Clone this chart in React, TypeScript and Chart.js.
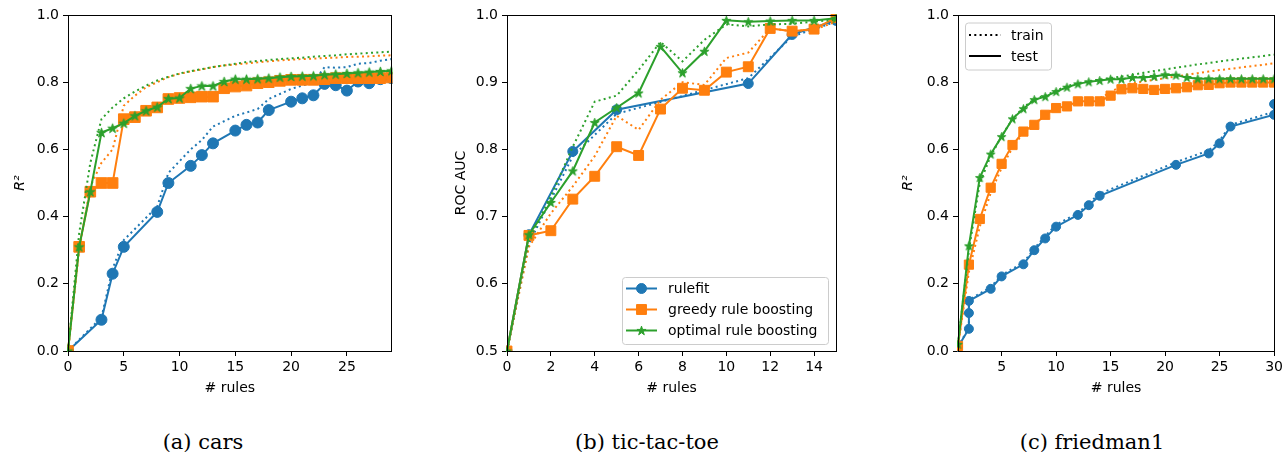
import React, { useEffect, useRef } from 'react';
import { Chart, registerables } from 'chart.js';
Chart.register(...registerables);

const FONT = '"DejaVu Sans", sans-serif';
const BLUE = '#1f77b4';
const ORANGE = '#ff7f0e';
const GREEN = '#2ca02c';

// ---------- (a) cars ----------
const carsRulefitX = [0, 3, 4, 5, 8, 9, 11, 12, 13, 15, 16, 17, 18, 20, 21, 22, 23, 24, 25, 26, 27, 28, 29];
const carsRulefitTest = [0, 0.093, 0.23, 0.31, 0.414, 0.5, 0.551, 0.583, 0.618, 0.656, 0.673, 0.68, 0.717, 0.742, 0.752, 0.761, 0.795, 0.791, 0.775, 0.802, 0.797, 0.809, 0.812];
const carsRulefitTrain = [0, 0.1, 0.245, 0.33, 0.43, 0.53, 0.6, 0.628, 0.668, 0.7, 0.71, 0.72, 0.75, 0.78, 0.79, 0.8, 0.845, 0.843, 0.845, 0.855, 0.857, 0.864, 0.869];
const carsGreedyX = [0, 1, 2, 3, 4, 5, 6, 7, 8, 9, 10, 11, 12, 13, 14, 15, 16, 17, 18, 19, 20, 21, 22, 23, 24, 25, 26, 27, 28, 29];
const carsGreedyTest = [0, 0.31, 0.474, 0.5, 0.5, 0.69, 0.696, 0.715, 0.725, 0.75, 0.753, 0.755, 0.757, 0.757, 0.782, 0.787, 0.79, 0.797, 0.8, 0.804, 0.807, 0.807, 0.807, 0.809, 0.812, 0.812, 0.812, 0.812, 0.812, 0.814];
const carsGreedyTrain = [0, 0.3, 0.49, 0.56, 0.6, 0.73, 0.76, 0.785, 0.8, 0.815, 0.825, 0.832, 0.838, 0.845, 0.85, 0.853, 0.856, 0.859, 0.862, 0.865, 0.867, 0.869, 0.87, 0.872, 0.873, 0.875, 0.876, 0.877, 0.879, 0.88];
const carsOptimalX = [0, 1, 2, 3, 4, 5, 6, 7, 8, 9, 10, 11, 12, 13, 14, 15, 16, 17, 18, 19, 20, 21, 22, 23, 24, 25, 26, 27, 28, 29];
const carsOptimalTest = [0, 0.31, 0.474, 0.65, 0.663, 0.678, 0.7, 0.715, 0.726, 0.751, 0.753, 0.781, 0.789, 0.789, 0.802, 0.809, 0.809, 0.81, 0.812, 0.815, 0.817, 0.818, 0.819, 0.822, 0.824, 0.826, 0.828, 0.83, 0.832, 0.834];
const carsOptimalTrain = [0, 0.35, 0.56, 0.69, 0.725, 0.752, 0.772, 0.79, 0.805, 0.816, 0.826, 0.833, 0.839, 0.845, 0.85, 0.855, 0.86, 0.863, 0.866, 0.869, 0.871, 0.873, 0.876, 0.878, 0.88, 0.883, 0.885, 0.887, 0.889, 0.891];

// ---------- (b) tic-tac-toe ----------
const tttRulefitX = [0, 1, 3, 5, 11, 13, 15];
const tttRulefitTest = [0.5, 0.673, 0.797, 0.859, 0.898, 0.971, 0.992];
const tttRulefitTrain = [0.5, 0.66, 0.79, 0.853, 0.906, 0.968, 0.99];
const tttGreedyX = [0, 1, 2, 3, 4, 5, 6, 7, 8, 9, 10, 11, 12, 13, 14, 15];
const tttGreedyTest = [0.5, 0.672, 0.679, 0.726, 0.76, 0.804, 0.791, 0.86, 0.891, 0.888, 0.915, 0.923, 0.98, 0.976, 0.979, 0.996];
const tttGreedyTrain = [0.5, 0.655, 0.705, 0.745, 0.79, 0.85, 0.829, 0.874, 0.9, 0.896, 0.936, 0.944, 0.98, 0.976, 0.978, 0.99];
const tttOptimalX = [0, 1, 2, 3, 4, 5, 6, 7, 8, 9, 10, 11, 12, 13, 14, 15];
const tttOptimalTest = [0.5, 0.673, 0.721, 0.768, 0.84, 0.862, 0.884, 0.953, 0.914, 0.946, 0.992, 0.99, 0.991, 0.992, 0.992, 0.995];
const tttOptimalTrain = [0.5, 0.665, 0.73, 0.804, 0.871, 0.88, 0.918, 0.96, 0.931, 0.963, 0.986, 0.983, 0.986, 0.987, 0.99, 0.993];

// ---------- (c) friedman1 ----------
const friedRulefitX = [1, 2, 2, 2, 4, 5, 7, 8, 9, 10, 12, 13, 14, 21, 24, 25, 26, 30, 30];
const friedRulefitTest = [0.012, 0.066, 0.113, 0.149, 0.185, 0.222, 0.258, 0.3, 0.335, 0.37, 0.405, 0.434, 0.462, 0.554, 0.588, 0.618, 0.668, 0.703, 0.735];
const friedRulefitTrain = [0.012, 0.07, 0.116, 0.152, 0.19, 0.226, 0.263, 0.305, 0.342, 0.376, 0.41, 0.44, 0.468, 0.562, 0.597, 0.626, 0.673, 0.712, 0.722];
const friedGreedyX = [1, 2, 3, 4, 5, 6, 7, 8, 9, 10, 11, 12, 13, 14, 15, 16, 17, 18, 19, 20, 21, 22, 23, 24, 25, 26, 27, 28, 29, 30];
const friedGreedyTest = [0.015, 0.257, 0.393, 0.486, 0.557, 0.613, 0.653, 0.673, 0.703, 0.723, 0.728, 0.743, 0.743, 0.743, 0.76, 0.779, 0.782, 0.78, 0.777, 0.78, 0.782, 0.785, 0.791, 0.792, 0.797, 0.799, 0.799, 0.799, 0.799, 0.799];
const friedGreedyTrain = [0.015, 0.235, 0.37, 0.47, 0.545, 0.605, 0.65, 0.675, 0.705, 0.725, 0.735, 0.745, 0.748, 0.752, 0.77, 0.79, 0.797, 0.802, 0.807, 0.812, 0.817, 0.822, 0.827, 0.832, 0.836, 0.84, 0.844, 0.848, 0.852, 0.856];
const friedOptimalX = [1, 2, 3, 4, 5, 6, 7, 8, 9, 10, 11, 12, 13, 14, 15, 16, 17, 18, 19, 20, 21, 22, 23, 24, 25, 26, 27, 28, 29, 30];
const friedOptimalTest = [0.02, 0.313, 0.516, 0.586, 0.638, 0.691, 0.721, 0.748, 0.757, 0.772, 0.785, 0.795, 0.801, 0.805, 0.809, 0.809, 0.814, 0.814, 0.817, 0.822, 0.821, 0.814, 0.81, 0.81, 0.81, 0.81, 0.81, 0.81, 0.81, 0.81];
const friedOptimalTrain = [0.02, 0.3, 0.5, 0.58, 0.64, 0.69, 0.725, 0.75, 0.76, 0.775, 0.788, 0.797, 0.803, 0.808, 0.812, 0.817, 0.822, 0.828, 0.833, 0.838, 0.843, 0.848, 0.853, 0.857, 0.862, 0.866, 0.87, 0.874, 0.878, 0.882];

// ---------- ticks / labels ----------
const carsXTicks = [0, 5, 10, 15, 20, 25];
const tttXTicks = [0, 2, 4, 6, 8, 10, 12, 14];
const friedXTicks = [5, 10, 15, 20, 25, 30];
const r2YTicks = [0, 0.2, 0.4, 0.6, 0.8, 1.0];
const aucYTicks = [0.5, 0.6, 0.7, 0.8, 0.9, 1.0];
const methodLabels = ['rulefit', 'greedy rule boosting', 'optimal rule boosting'];
const splitLabels = ['train', 'test'];
const captions = ['(a) cars', '(b) tic-tac-toe', '(c) friedman1'];

type Marker = 'circle' | 'rect' | 'star';
type Series = { x: number[]; test: number[]; train: number[]; color: string; marker: Marker };
type Sizes = { circle: number; rect: number; star: number };

function starPath(ctx: CanvasRenderingContext2D, cx: number, cy: number, R: number) {
  ctx.beginPath();
  for (let i = 0; i < 10; i++) {
    const r = i % 2 === 0 ? R : R * 0.381966;
    const a = -Math.PI / 2 + (i * Math.PI) / 5;
    const px = cx + r * Math.cos(a);
    const py = cy + r * Math.sin(a);
    if (i === 0) ctx.moveTo(px, py);
    else ctx.lineTo(px, py);
  }
  ctx.closePath();
}

function starCanvas(color: string, R: number): HTMLCanvasElement {
  const c = document.createElement('canvas');
  const s = Math.ceil(2 * R + 3);
  c.width = s;
  c.height = s;
  const ctx = c.getContext('2d')!;
  starPath(ctx, s / 2, s / 2 + 0.4, R);
  ctx.fillStyle = color;
  ctx.fill();
  ctx.strokeStyle = color;
  ctx.lineWidth = 1;
  ctx.stroke();
  return c;
}

function drawMarker(ctx: CanvasRenderingContext2D, kind: Marker, x: number, y: number, color: string, sizes: Sizes) {
  ctx.save();
  ctx.fillStyle = color;
  ctx.strokeStyle = color;
  ctx.lineWidth = 1;
  if (kind === 'circle') {
    ctx.beginPath();
    ctx.arc(x, y, sizes.circle, 0, Math.PI * 2);
    ctx.fill();
    ctx.stroke();
  } else if (kind === 'rect') {
    const h = sizes.rect * Math.SQRT1_2;
    ctx.beginPath();
    ctx.rect(x - h, y - h, 2 * h, 2 * h);
    ctx.fill();
    ctx.stroke();
  } else {
    starPath(ctx, x, y + 0.4, sizes.star);
    ctx.fill();
    ctx.stroke();
  }
  ctx.restore();
}

function pts(xs: number[], ys: number[]) {
  return xs.map((x, i) => ({ x, y: ys[i] }));
}

function buildDatasets(series: Series[], sizes: Sizes) {
  const out: any[] = [];
  for (const s of [...series].reverse()) {
    const ps = s.marker === 'star' ? starCanvas(s.color, sizes.star) : s.marker;
    const r = s.marker === 'circle' ? sizes.circle : s.marker === 'rect' ? sizes.rect : sizes.star;
    out.push({
      label: 'test',
      data: pts(s.x, s.test),
      showLine: true,
      borderColor: s.color,
      backgroundColor: s.color,
      borderWidth: 2,
      pointStyle: ps,
      pointRadius: r,
      pointBorderWidth: 1,
      pointBorderColor: s.color,
      pointBackgroundColor: s.color,
      clip: 1,
    });
    out.push({
      label: 'train',
      data: pts(s.x, s.train),
      showLine: true,
      borderColor: s.color,
      backgroundColor: s.color,
      borderWidth: 2,
      borderDash: [2, 3.3],
      pointRadius: 0,
      clip: 1,
    });
  }
  return out;
}

function roundRect(ctx: CanvasRenderingContext2D, x: number, y: number, w: number, h: number, r: number) {
  ctx.beginPath();
  ctx.moveTo(x + r, y);
  ctx.arcTo(x + w, y, x + w, y + h, r);
  ctx.arcTo(x + w, y + h, x, y + h, r);
  ctx.arcTo(x, y + h, x, y, r);
  ctx.arcTo(x, y, x + w, y, r);
  ctx.closePath();
}

function legendBox(ctx: CanvasRenderingContext2D, x: number, y: number, w: number, h: number) {
  roundRect(ctx, x + 0.5, y + 0.5, w, h, 3);
  ctx.fillStyle = 'rgba(255,255,255,0.8)';
  ctx.fill();
  ctx.strokeStyle = '#cccccc';
  ctx.lineWidth = 1;
  ctx.stroke();
}

const alignPx = (v: number) => Math.round(v - 0.5) + 0.5;

type PanelProps = {
  left: number;
  width: number;
  yWidth: number;
  padRight: number;
  xMin: number;
  xMax: number;
  yMin: number;
  yMax: number;
  xTicks: number[];
  yTicks: number[];
  yTitle: string;
  yTitleItalic: boolean;
  yTitlePad: number;
  series: Series[];
  sizes: Sizes;
  legend: (ctx: CanvasRenderingContext2D, a: any) => void;
};

function Panel(p: PanelProps) {
  const ref = useRef<HTMLCanvasElement>(null);
  useEffect(() => {
    const tickFont = { family: FONT, size: 14 };
    const grid = { drawOnChartArea: false, drawTicks: true, tickLength: 5, color: '#000', lineWidth: 1 };
    const framePlugin = {
      id: 'frameAndLegend',
      afterDatasetsDraw(chart: any) {
        const { ctx, chartArea: a } = chart;
        ctx.save();
        ctx.strokeStyle = '#000';
        ctx.lineWidth = 1;
        const l = alignPx(a.left), r = alignPx(a.right), t = alignPx(a.top), b = alignPx(a.bottom);
        ctx.strokeRect(l, t, r - l, b - t);
        p.legend(ctx, a);
        ctx.restore();
      },
    };
    const chart = new Chart(ref.current!, {
      type: 'scatter',
      data: { datasets: buildDatasets(p.series, p.sizes) },
      options: {
        responsive: false,
        animation: false,
        devicePixelRatio: 1,
        events: [],
        layout: { padding: { left: 0, right: p.padRight, top: 15, bottom: 0 } },
        plugins: { legend: { display: false }, tooltip: { enabled: false } },
        scales: {
          x: {
            type: 'linear',
            min: p.xMin,
            max: p.xMax,
            afterBuildTicks: (s: any) => {
              s.ticks = p.xTicks.map((v) => ({ value: v }));
            },
            afterFit: (s: any) => {
              s.height = 49;
            },
            grid,
            border: { display: false },
            ticks: {
              color: '#000',
              font: tickFont,
              padding: 3,
              maxRotation: 0,
              autoSkip: false,
              callback: (v: any) => String(v),
            },
            title: { display: true, text: '# rules', color: '#000', font: tickFont, padding: { top: 0, bottom: 3.6 } },
          },
          y: {
            type: 'linear',
            min: p.yMin,
            max: p.yMax,
            afterBuildTicks: (s: any) => {
              s.ticks = p.yTicks.map((v) => ({ value: v }));
            },
            afterFit: (s: any) => {
              s.width = p.yWidth;
            },
            grid,
            border: { display: false },
            ticks: {
              color: '#000',
              font: tickFont,
              padding: 4,
              autoSkip: false,
              callback: (v: any) => Number(v).toFixed(1),
            },
            title: {
              display: true,
              text: p.yTitle,
              color: '#000',
              font: { family: FONT, size: 14, style: p.yTitleItalic ? 'italic' : 'normal' },
              padding: { top: p.yTitlePad, bottom: 0 },
            },
          },
        },
      } as any,
      plugins: [framePlugin],
    });
    return () => chart.destroy();
  }, []);
  return (
    <canvas
      ref={ref}
      width={p.width}
      height={400}
      style={{ position: 'absolute', left: p.left, top: 0, width: p.width, height: 400 }}
    />
  );
}

const carsSeries: Series[] = [
  { x: carsRulefitX, test: carsRulefitTest, train: carsRulefitTrain, color: BLUE, marker: 'circle' },
  { x: carsGreedyX, test: carsGreedyTest, train: carsGreedyTrain, color: ORANGE, marker: 'rect' },
  { x: carsOptimalX, test: carsOptimalTest, train: carsOptimalTrain, color: GREEN, marker: 'star' },
];
const tttSeries: Series[] = [
  { x: tttRulefitX, test: tttRulefitTest, train: tttRulefitTrain, color: BLUE, marker: 'circle' },
  { x: tttGreedyX, test: tttGreedyTest, train: tttGreedyTrain, color: ORANGE, marker: 'rect' },
  { x: tttOptimalX, test: tttOptimalTest, train: tttOptimalTrain, color: GREEN, marker: 'star' },
];
const friedSeries: Series[] = [
  { x: friedRulefitX, test: friedRulefitTest, train: friedRulefitTrain, color: BLUE, marker: 'circle' },
  { x: friedGreedyX, test: friedGreedyTest, train: friedGreedyTrain, color: ORANGE, marker: 'rect' },
  { x: friedOptimalX, test: friedOptimalTest, train: friedOptimalTrain, color: GREEN, marker: 'star' },
];

const carsSizes: Sizes = { circle: 5.5, rect: 7.5, star: 5 };
const tttSizes: Sizes = { circle: 5, rect: 7, star: 4.8 };
const friedSizes: Sizes = { circle: 4.5, rect: 6.5, star: 4.6 };

function methodLegend(ctx: CanvasRenderingContext2D, a: any) {
  const w = 206, h = 67;
  const x = a.right - 214;
  const y = a.bottom - 74;
  legendBox(ctx, x, y, w, h);
  const colors = [BLUE, ORANGE, GREEN];
  const markers: Marker[] = ['circle', 'rect', 'star'];
  methodLabels.forEach((label, i) => {
    const ry = y + 11.5 + i * 21;
    ctx.strokeStyle = colors[i];
    ctx.lineWidth = 2;
    ctx.setLineDash([]);
    ctx.beginPath();
    ctx.moveTo(x + 4, ry);
    ctx.lineTo(x + 35, ry);
    ctx.stroke();
    drawMarker(ctx, markers[i], x + 19.5, ry, colors[i], tttSizes);
    ctx.fillStyle = '#000';
    ctx.font = `14px ${FONT}`;
    ctx.textBaseline = 'middle';
    ctx.textAlign = 'left';
    ctx.fillText(label, x + 46, ry + 1);
  });
}

function splitLegend(ctx: CanvasRenderingContext2D, a: any) {
  const w = 86, h = 47;
  const x = a.left + 7;
  const y = a.top + 7.5;
  legendBox(ctx, x, y, w, h);
  splitLabels.forEach((label, i) => {
    const ry = y + 12.5 + i * 21;
    ctx.strokeStyle = '#000';
    ctx.lineWidth = 2;
    ctx.setLineDash(i === 0 ? [2, 3.3] : []);
    ctx.beginPath();
    ctx.moveTo(x + 4, ry);
    ctx.lineTo(x + 36, ry);
    ctx.stroke();
    ctx.setLineDash([]);
    ctx.fillStyle = '#000';
    ctx.font = `14px ${FONT}`;
    ctx.textBaseline = 'middle';
    ctx.textAlign = 'left';
    ctx.fillText(label, x + 46, ry + 1);
  });
}

const captionCenters = [203, 647, 1092];

export default function App() {
  return (
    <div style={{ position: 'absolute', left: 0, top: 0, width: 1286, height: 452, background: '#fff', overflow: 'hidden' }}>
      <Panel
        left={0}
        width={400}
        yWidth={68}
        padRight={8}
        xMin={0}
        xMax={29}
        yMin={0}
        yMax={1}
        xTicks={carsXTicks}
        yTicks={r2YTicks}
        yTitle="R²"
        yTitleItalic={true}
        yTitlePad={11.6}
        series={carsSeries}
        sizes={carsSizes}
        legend={() => {}}
      />
      <Panel
        left={440}
        width={406}
        yWidth={67}
        padRight={10}
        xMin={0}
        xMax={15}
        yMin={0.5}
        yMax={1}
        xTicks={tttXTicks}
        yTicks={aucYTicks}
        yTitle="ROC AUC"
        yTitleItalic={false}
        yTitlePad={13.1}
        series={tttSeries}
        sizes={tttSizes}
        legend={methodLegend}
      />
      <Panel
        left={880}
        width={406}
        yWidth={78}
        padRight={10}
        xMin={1}
        xMax={30}
        yMin={0}
        yMax={1}
        xTicks={friedXTicks}
        yTicks={r2YTicks}
        yTitle="R²"
        yTitleItalic={true}
        yTitlePad={19.6}
        series={friedSeries}
        sizes={friedSizes}
        legend={splitLegend}
      />
      {captions.map((c, i) => (
        <div
          key={c}
          style={{
            position: 'absolute',
            left: captionCenters[i] - 150,
            width: 300,
            top: 430,
            textAlign: 'center',
            fontFamily: '"DejaVu Serif", serif',
            fontSize: 21,
            lineHeight: '24px',
            color: '#000',
            whiteSpace: 'nowrap',
          }}
        >
          {c}
        </div>
      ))}
    </div>
  );
}
